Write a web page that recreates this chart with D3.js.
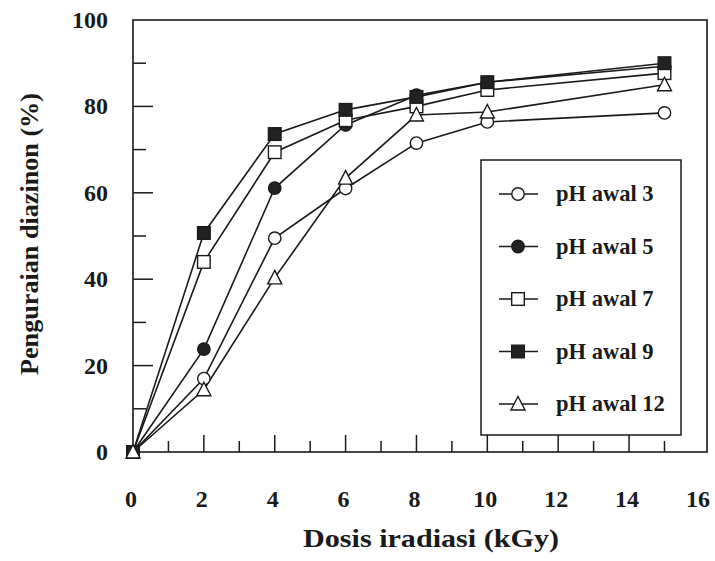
<!DOCTYPE html>
<html>
<head>
<meta charset="utf-8">
<script src="https://cdn.jsdelivr.net/npm/d3@7"></script>
<style>
  body { margin: 0; background: #fff; }
  text { font-family: 'Liberation Serif', 'Times New Roman', serif; font-weight: bold; fill: #1a1a1a; }
</style>
</head>
<body>
<div id="chart"></div>
<script>
const doses = [0, 2, 4, 6, 8, 10, 15];
const ph3 = [0, 17, 49.5, 61, 71.5, 76.4, 78.5];
const ph5 = [0, 23.8, 61.1, 75.7, 82.6, 85.6, 89.3];
const ph7 = [0, 44, 69.4, 76.8, 80, 83.8, 87.7];
const ph9 = [0, 50.7, 73.6, 79.2, 82.2, 85.6, 90];
const ph12 = [0, 14.4, 40.3, 63.4, 78, 78.7, 85];
const seriesNames = ['pH awal 3', 'pH awal 5', 'pH awal 7', 'pH awal 9', 'pH awal 12'];
const xTickLabels = [0, 2, 4, 6, 8, 10, 12, 14, 16];
const yTickLabels = [0, 20, 40, 60, 80, 100];

const series = [
  {name: seriesNames[0], values: ph3, shape: 'circle', fill: '#fff'},
  {name: seriesNames[1], values: ph5, shape: 'circle', fill: '#222'},
  {name: seriesNames[2], values: ph7, shape: 'square', fill: '#fff'},
  {name: seriesNames[3], values: ph9, shape: 'square', fill: '#222'},
  {name: seriesNames[4], values: ph12, shape: 'triangle', fill: '#fff'}
];

const W = 715, H = 561;
const margin = {top: 20, right: 8, bottom: 109, left: 133};

const svg = d3.select('#chart').append('svg')
  .attr('width', W)
  .attr('height', H);

const x = d3.scaleLinear()
  .domain([0, 16.2])
  .range([margin.left, W - margin.right]);

const y = d3.scaleLinear()
  .domain([0, 100])
  .range([H - margin.bottom, margin.top]);

// frame
svg.append('rect')
  .attr('x', x(0))
  .attr('y', y(100))
  .attr('width', x(16.2) - x(0))
  .attr('height', y(0) - y(100))
  .attr('fill', 'none')
  .attr('stroke', '#1a1a1a')
  .attr('stroke-width', 1.6);

// x ticks point inward (up), major on even
const xMinor = d3.range(1, 16);
svg.append('g').selectAll('line')
  .data(xMinor)
  .enter().append('line')
  .attr('x1', d => x(d)).attr('x2', d => x(d))
  .attr('y1', y(0))
  .attr('y2', d => y(0) - (d % 2 === 0 ? 17 : 11))
  .attr('stroke', '#1a1a1a')
  .attr('stroke-width', 1.5);

svg.append('g').selectAll('text')
  .data(xTickLabels)
  .enter().append('text')
  .attr('x', d => x(d) - 2)
  .attr('y', y(0) + 55)
  .attr('text-anchor', 'middle')
  .attr('font-size', 24)
  .text(d => d);

// y ticks, major every 20
const yMinor = d3.range(10, 100, 10);
svg.append('g').selectAll('line')
  .data(yMinor)
  .enter().append('line')
  .attr('x1', x(0))
  .attr('x2', d => x(0) + (d % 20 === 0 ? 20 : 13))
  .attr('y1', d => y(d)).attr('y2', d => y(d))
  .attr('stroke', '#1a1a1a')
  .attr('stroke-width', 1.5);

svg.append('g').selectAll('text')
  .data(yTickLabels)
  .enter().append('text')
  .attr('x', x(0) - 25)
  .attr('y', d => y(d) + 8)
  .attr('text-anchor', 'end')
  .attr('font-size', 24)
  .text(d => d);

// axis titles
svg.append('text')
  .attr('x', 431)
  .attr('y', 547)
  .attr('text-anchor', 'middle')
  .attr('font-size', 26)
  .attr('textLength', 256)
  .attr('lengthAdjust', 'spacingAndGlyphs')
  .text('Dosis iradiasi (kGy)');

svg.append('text')
  .attr('transform', 'translate(38,234) rotate(-90)')
  .attr('text-anchor', 'middle')
  .attr('font-size', 26)
  .attr('textLength', 282)
  .attr('lengthAdjust', 'spacingAndGlyphs')
  .text('Penguraian diazinon (%)');

function drawMarker(g, shape, fill) {
  if (shape === 'circle') {
    g.append('circle').attr('r', 6.2);
  } else if (shape === 'square') {
    g.append('rect').attr('x', -6.3).attr('y', -6.3).attr('width', 12.6).attr('height', 12.6);
  } else {
    g.append('path').attr('d', 'M0,-7.5L7,6L-7,6Z');
  }
  g.selectAll('*')
    .attr('fill', fill)
    .attr('stroke', '#1a1a1a')
    .attr('stroke-width', 1.4);
}

const line = d3.line()
  .x((d, i) => x(doses[i]))
  .y(d => y(d));

series.forEach(s => {
  svg.append('path')
    .datum(s.values)
    .attr('d', line)
    .attr('fill', 'none')
    .attr('stroke', '#1a1a1a')
    .attr('stroke-width', 1.6);
});

series.forEach(s => {
  svg.append('g').selectAll('g')
    .data(s.values)
    .enter().append('g')
    .attr('transform', (d, i) => 'translate(' + x(doses[i]) + ',' + y(d) + ')')
    .each(function() { drawMarker(d3.select(this), s.shape, s.fill); });
});

// legend
const legend = svg.append('g');
legend.append('rect')
  .attr('x', 481).attr('y', 160)
  .attr('width', 200).attr('height', 275)
  .attr('fill', '#fff')
  .attr('stroke', '#1a1a1a')
  .attr('stroke-width', 1.5);

const items = legend.selectAll('g.item')
  .data(series)
  .enter().append('g')
  .attr('class', 'item')
  .attr('transform', (d, i) => 'translate(518,' + (194 + i * 52.5) + ')');

items.append('line')
  .attr('x1', -19).attr('x2', 20)
  .attr('stroke', '#1a1a1a')
  .attr('stroke-width', 1.3);

items.each(function(d) {
  drawMarker(d3.select(this).append('g'), d.shape, d.fill);
});

items.append('text')
  .attr('x', 38)
  .attr('y', 7)
  .attr('font-size', 22.5)
  .text(d => d.name);
</script>
</body>
</html>
